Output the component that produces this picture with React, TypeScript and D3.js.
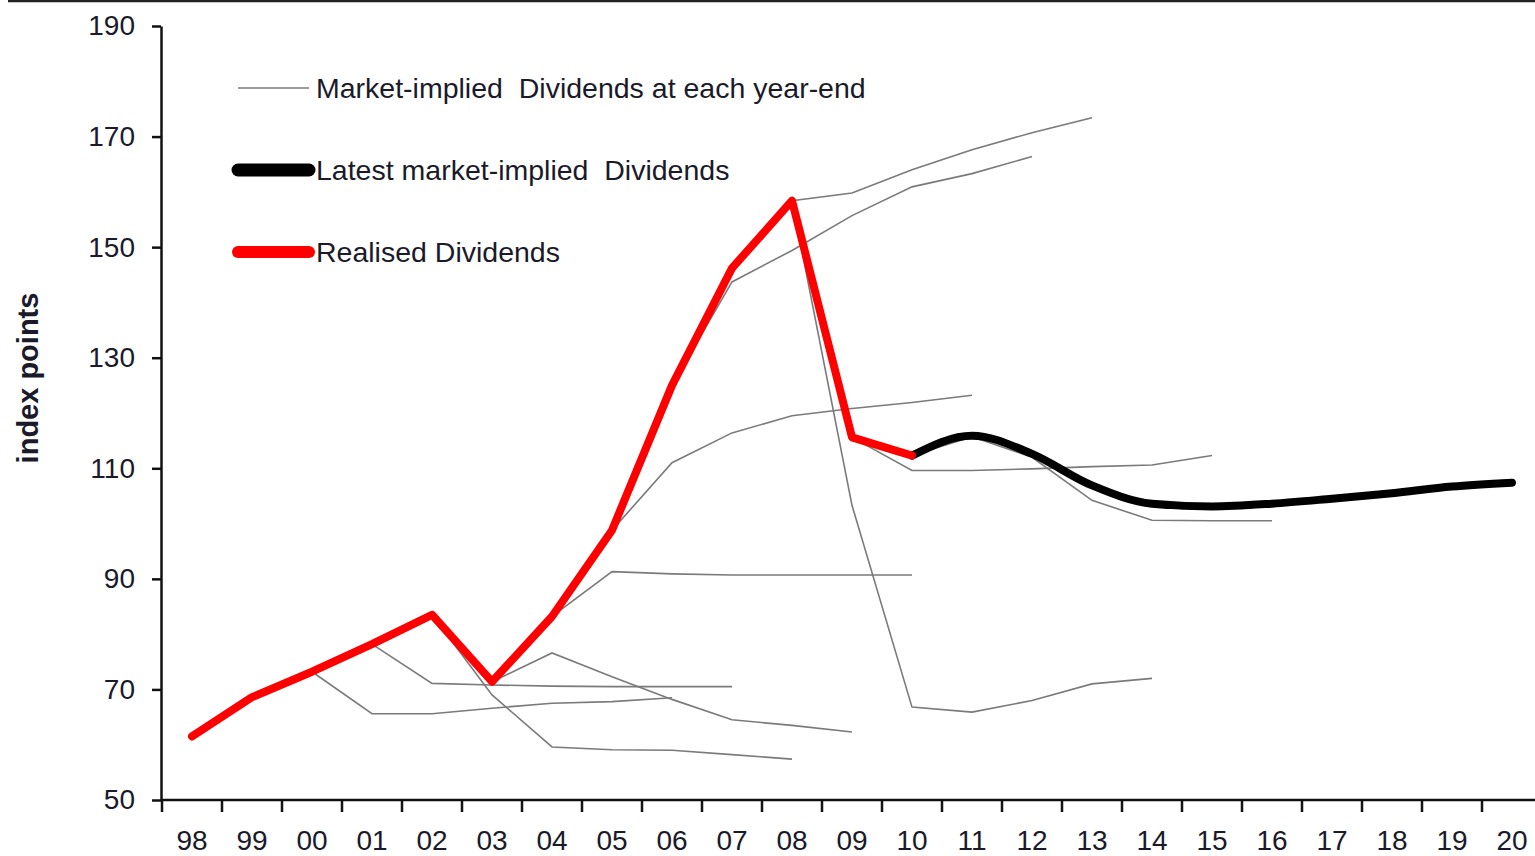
import { useEffect, useRef } from "react";
import * as d3 from "d3";

const years = ["98", "99", "00", "01", "02", "03", "04", "05", "06", "07", "08", "09", "10", "11", "12", "13", "14", "15", "16", "17", "18", "19", "20"];
const yTicks = [50, 70, 90, 110, 130, 150, 170, 190];

// realised dividends 98..10
const realised = [61.5, 68.6, 73.2, 78.2, 83.5, 71.4, 83.2, 98.8, 125, 146.2, 158.4, 115.6, 112.3];
// latest market-implied 10..20
const latestStart = "10";
const latest = [112.3, 115.9, 112.6, 106.9, 103.6, 103.1, 103.6, 104.5, 105.5, 106.7, 107.4];

// market-implied curve at each year-end: start year + values from that year on
const impliedStarts = ["00", "01", "02", "03", "04", "05", "06", "07", "08", "09", "10"];
const implied00 = [73.2, 65.6, 65.6, 66.6, 67.5, 67.8, 68.5];
const implied01 = [78.2, 71.1, 70.8, 70.6, 70.5, 70.5, 70.5];
const implied02 = [83.5, 69, 59.6, 59.1, 59, 58.2, 57.4];
const implied03 = [71.4, 76.6, 72.3, 68.2, 64.5, 63.5, 62.3];
const implied04 = [83.2, 91.3, 90.9, 90.7, 90.7, 90.7, 90.7];
const implied05 = [98.8, 111, 116.4, 119.5, 120.8, 121.9, 123.2];
const implied06 = [125, 143.7, 149.4, 155.7, 160.9, 163.3, 166.4];
const implied07 = [146.2, 158.4, 159.8, 164, 167.6, 170.7, 173.4];
const implied08 = [158.4, 103.3, 66.8, 65.9, 68, 71, 72];
const implied09 = [115.6, 109.6, 109.6, 109.9, 110.3, 110.6, 112.3];
const implied10 = [112.3, 115.7, 112, 104.2, 100.6, 100.5, 100.5];
const impliedValues = [implied00, implied01, implied02, implied03, implied04, implied05, implied06, implied07, implied08, implied09, implied10];

const legendLabels = ["Market-implied  Dividends at each year-end", "Latest market-implied  Dividends", "Realised Dividends"];

const FONT = "'Liberation Sans', Arial, sans-serif";

type Pt = { year: string; value: number };

function toPoints(start: string, values: number[]): Pt[] {
  const i0 = years.indexOf(start);
  return values.map((v, i) => ({ year: years[i0 + i], value: v }));
}

export default function App() {
  const svgRef = useRef<SVGSVGElement>(null);

  useEffect(() => {
    if (!svgRef.current) return;
    const width = 1535;
    const height = 856;

    const svg = d3.select(svgRef.current);
    svg.selectAll("*").remove();
    svg.attr("width", width).attr("height", height);

    const x = d3.scaleBand<string>().domain(years).range([162, 1542]);
    const y = d3.scaleLinear().domain([50, 190]).range([800, 26]);
    const cx = (yr: string) => (x(yr) as number) + x.bandwidth() / 2;

    // top border
    svg.append("line")
      .attr("x1", 8).attr("x2", width)
      .attr("y1", 1).attr("y2", 1)
      .attr("stroke", "#222").attr("stroke-width", 2.5);

    // y axis
    const yAxis = svg.append("g")
      .attr("transform", "translate(161,0)")
      .call(d3.axisLeft(y).tickValues(yTicks).tickSize(9).tickPadding(17).tickSizeOuter(0));
    yAxis.select(".domain").attr("stroke", "#111").attr("stroke-width", 2.5);
    yAxis.selectAll(".tick line").attr("stroke", "#111").attr("stroke-width", 2.5);
    yAxis.selectAll("text")
      .attr("fill", "#1a1a2a")
      .style("font-family", FONT)
      .style("font-size", "28px");

    // x axis: line, ticks on band boundaries, labels at centres
    const xg = svg.append("g").attr("transform", "translate(0,800)");
    xg.append("line")
      .attr("x1", 161).attr("x2", width)
      .attr("y1", 0).attr("y2", 0)
      .attr("stroke", "#111").attr("stroke-width", 2.5);
    const bounds = years.map((d) => x(d) as number).concat([x.range()[1]]);
    xg.selectAll("line.tk")
      .data(bounds)
      .join("line")
      .attr("class", "tk")
      .attr("x1", (d) => d).attr("x2", (d) => d)
      .attr("y1", 0).attr("y2", 12)
      .attr("stroke", "#111").attr("stroke-width", 2.5);
    xg.selectAll("text")
      .data(years)
      .join("text")
      .attr("x", (d) => cx(d))
      .attr("y", 50)
      .attr("text-anchor", "middle")
      .attr("fill", "#1a1a2a")
      .style("font-family", FONT)
      .style("font-size", "28px")
      .text((d) => d);

    // y title
    svg.append("text")
      .attr("transform", "translate(38,378) rotate(-90)")
      .attr("text-anchor", "middle")
      .attr("fill", "#1a1a2a")
      .style("font-family", FONT)
      .style("font-size", "29px")
      .style("font-weight", "bold")
      .text("index points");

    const line = d3.line<Pt>()
      .x((d) => cx(d.year))
      .y((d) => y(d.value));

    // market-implied curves
    impliedStarts.forEach((s, i) => {
      svg.append("path")
        .datum(toPoints(s, impliedValues[i]))
        .attr("d", line)
        .attr("fill", "none")
        .attr("stroke", "#7a7a7a")
        .attr("stroke-width", 1.6);
    });

    // latest market-implied
    svg.append("path")
      .datum(toPoints(latestStart, latest))
      .attr("d", line.curve(d3.curveMonotoneX))
      .attr("fill", "none")
      .attr("stroke", "#000")
      .attr("stroke-width", 8)
      .attr("stroke-linecap", "round")
      .attr("stroke-linejoin", "round");

    // realised
    svg.append("path")
      .datum(toPoints(years[0], realised))
      .attr("d", line.curve(d3.curveLinear))
      .attr("fill", "none")
      .attr("stroke", "#ff0000")
      .attr("stroke-width", 8)
      .attr("stroke-linecap", "round")
      .attr("stroke-linejoin", "round");

    // legend
    const legendStyles = [
      { color: "#7a7a7a", w: 1.6, y: 88 },
      { color: "#000", w: 13, y: 170 },
      { color: "#ff0000", w: 12, y: 252 },
    ];
    legendLabels.forEach((label, i) => {
      const st = legendStyles[i];
      svg.append("line")
        .attr("x1", 238).attr("x2", 309)
        .attr("y1", st.y).attr("y2", st.y)
        .attr("stroke", st.color)
        .attr("stroke-width", st.w)
        .attr("stroke-linecap", i === 0 ? "butt" : "round");
      svg.append("text")
        .attr("x", 316)
        .attr("y", st.y)
        .attr("dominant-baseline", "central")
        .attr("fill", "#1a1a2a")
        .style("font-family", FONT)
        .style("font-size", "28.5px")
        .style("white-space", "pre")
        .text(label);
    });
  }, []);

  return (
    <div style={{ position: "absolute", left: 0, top: 0, background: "#fff" }}>
      <svg ref={svgRef} style={{ display: "block" }} />
    </div>
  );
}
